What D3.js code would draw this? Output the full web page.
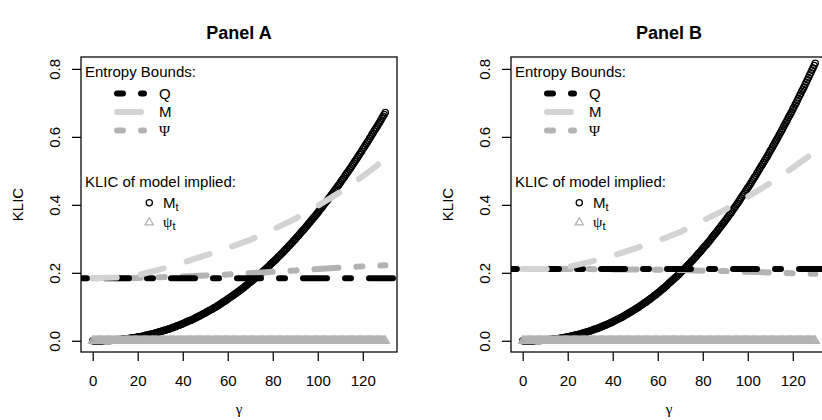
<!DOCTYPE html>
<html>
<head>
<meta charset="utf-8">
<script src="https://cdn.jsdelivr.net/npm/d3@7"></script>
<style>
  body { margin: 0; background: #fff; }
  text { font-family: "Liberation Sans", Arial, Helvetica, sans-serif; fill: #000; }
  .greek { font-family: "Liberation Serif", "DejaVu Serif", serif; }
</style>
</head>
<body>
<div id="chart"></div>
<script>
const width = 822,
      height = 420;

// gamma grid of the point series (step 0.5)
const gammaPts = [
  0,0.5,1,1.5,2,2.5,3,3.5,4,4.5,5,5.5,6,6.5,7,7.5,8,8.5,9,9.5,
  10,10.5,11,11.5,12,12.5,13,13.5,14,14.5,15,15.5,16,16.5,17,17.5,18,18.5,19,19.5,
  20,20.5,21,21.5,22,22.5,23,23.5,24,24.5,25,25.5,26,26.5,27,27.5,28,28.5,29,29.5,
  30,30.5,31,31.5,32,32.5,33,33.5,34,34.5,35,35.5,36,36.5,37,37.5,38,38.5,39,39.5,
  40,40.5,41,41.5,42,42.5,43,43.5,44,44.5,45,45.5,46,46.5,47,47.5,48,48.5,49,49.5,
  50,50.5,51,51.5,52,52.5,53,53.5,54,54.5,55,55.5,56,56.5,57,57.5,58,58.5,59,59.5,
  60,60.5,61,61.5,62,62.5,63,63.5,64,64.5,65,65.5,66,66.5,67,67.5,68,68.5,69,69.5,
  70,70.5,71,71.5,72,72.5,73,73.5,74,74.5,75,75.5,76,76.5,77,77.5,78,78.5,79,79.5,
  80,80.5,81,81.5,82,82.5,83,83.5,84,84.5,85,85.5,86,86.5,87,87.5,88,88.5,89,89.5,
  90,90.5,91,91.5,92,92.5,93,93.5,94,94.5,95,95.5,96,96.5,97,97.5,98,98.5,99,99.5,
  100,100.5,101,101.5,102,102.5,103,103.5,104,104.5,105,105.5,106,106.5,107,107.5,108,108.5,109,109.5,
  110,110.5,111,111.5,112,112.5,113,113.5,114,114.5,115,115.5,116,116.5,117,117.5,118,118.5,119,119.5,
  120,120.5,121,121.5,122,122.5,123,123.5,124,124.5,125,125.5,126,126.5,127,127.5,128,128.5,129,129.5,
  130];

// KLIC of model implied M_t (circles)
const mtA = [
  0.000,0.000,0.000,0.000,0.000,0.000,0.000,0.000,0.000,0.000,0.001,0.001,0.001,0.001,0.001,0.001,0.001,0.002,0.002,0.002,
  0.002,0.003,0.003,0.003,0.004,0.004,0.004,0.005,0.005,0.005,0.006,0.006,0.007,0.007,0.008,0.008,0.009,0.009,0.010,0.010,
  0.011,0.012,0.012,0.013,0.013,0.014,0.015,0.016,0.016,0.017,0.018,0.019,0.019,0.020,0.021,0.022,0.023,0.024,0.025,0.026,
  0.027,0.028,0.029,0.030,0.031,0.032,0.033,0.034,0.035,0.036,0.037,0.039,0.040,0.041,0.042,0.044,0.045,0.046,0.048,0.049,
  0.050,0.052,0.053,0.055,0.056,0.058,0.059,0.060,0.062,0.063,0.065,0.067,0.068,0.070,0.072,0.073,0.075,0.077,0.079,0.080,
  0.082,0.084,0.086,0.088,0.090,0.091,0.093,0.095,0.097,0.099,0.101,0.103,0.105,0.107,0.110,0.112,0.114,0.116,0.118,0.120,
  0.123,0.125,0.127,0.130,0.132,0.134,0.137,0.139,0.141,0.144,0.146,0.149,0.151,0.154,0.156,0.159,0.162,0.164,0.167,0.170,
  0.172,0.175,0.178,0.181,0.183,0.186,0.189,0.192,0.195,0.197,0.200,0.203,0.206,0.209,0.212,0.215,0.218,0.221,0.225,0.228,
  0.231,0.234,0.237,0.240,0.244,0.247,0.250,0.253,0.257,0.260,0.264,0.267,0.271,0.274,0.278,0.281,0.285,0.288,0.292,0.296,
  0.299,0.303,0.307,0.310,0.314,0.318,0.322,0.325,0.329,0.333,0.337,0.341,0.345,0.349,0.353,0.357,0.361,0.365,0.369,0.373,
  0.377,0.381,0.386,0.390,0.394,0.398,0.403,0.407,0.411,0.415,0.420,0.424,0.429,0.433,0.438,0.442,0.447,0.451,0.456,0.460,
  0.465,0.470,0.475,0.479,0.484,0.489,0.494,0.498,0.503,0.508,0.513,0.518,0.523,0.528,0.533,0.538,0.543,0.548,0.553,0.558,
  0.564,0.569,0.574,0.579,0.584,0.589,0.595,0.600,0.606,0.611,0.617,0.622,0.627,0.632,0.638,0.643,0.649,0.655,0.661,0.666,
  0.672];
const mtB = [
  0.000,0.000,0.000,0.000,0.000,0.000,0.000,0.000,0.000,0.000,0.000,0.001,0.001,0.001,0.001,0.001,0.001,0.002,0.002,0.002,
  0.002,0.003,0.003,0.003,0.004,0.004,0.004,0.005,0.005,0.006,0.006,0.006,0.007,0.007,0.008,0.008,0.009,0.010,0.010,0.011,
  0.012,0.012,0.013,0.014,0.014,0.015,0.016,0.017,0.018,0.018,0.019,0.020,0.021,0.022,0.023,0.024,0.025,0.026,0.027,0.028,
  0.029,0.030,0.031,0.033,0.034,0.035,0.036,0.037,0.039,0.040,0.041,0.043,0.044,0.045,0.047,0.048,0.050,0.051,0.053,0.054,
  0.056,0.058,0.059,0.061,0.063,0.064,0.066,0.068,0.069,0.071,0.073,0.075,0.077,0.079,0.081,0.083,0.085,0.087,0.089,0.091,
  0.093,0.095,0.097,0.099,0.102,0.104,0.106,0.108,0.111,0.113,0.115,0.118,0.120,0.122,0.125,0.127,0.130,0.133,0.135,0.138,
  0.141,0.143,0.146,0.149,0.152,0.154,0.157,0.160,0.163,0.166,0.169,0.172,0.175,0.178,0.181,0.184,0.187,0.190,0.193,0.196,
  0.200,0.203,0.206,0.210,0.213,0.216,0.220,0.223,0.227,0.230,0.234,0.237,0.241,0.244,0.248,0.252,0.256,0.259,0.263,0.267,
  0.271,0.275,0.279,0.282,0.286,0.290,0.294,0.298,0.303,0.307,0.311,0.315,0.319,0.323,0.328,0.332,0.336,0.341,0.345,0.349,
  0.354,0.358,0.363,0.367,0.372,0.376,0.381,0.386,0.391,0.395,0.400,0.405,0.410,0.415,0.420,0.425,0.430,0.435,0.440,0.445,
  0.450,0.455,0.460,0.465,0.471,0.476,0.481,0.486,0.492,0.497,0.503,0.508,0.514,0.519,0.525,0.530,0.536,0.541,0.547,0.553,
  0.559,0.564,0.570,0.576,0.582,0.588,0.594,0.600,0.606,0.612,0.618,0.624,0.631,0.637,0.643,0.649,0.656,0.662,0.668,0.674,
  0.681,0.687,0.694,0.700,0.707,0.714,0.721,0.727,0.734,0.740,0.747,0.754,0.761,0.768,0.775,0.782,0.789,0.796,0.803,0.810,
  0.817];

// KLIC of model implied psi_t (triangles), flat at zero
const psitA = [
  0,0,0,0,0,0,0,0,0,0,0,0,0,0,0,0,0,0,0,0, 0,0,0,0,0,0,0,0,0,0,0,0,0,0,0,0,0,0,0,0,
  0,0,0,0,0,0,0,0,0,0,0,0,0,0,0,0,0,0,0,0, 0,0,0,0,0,0,0,0,0,0,0,0,0,0,0,0,0,0,0,0,
  0,0,0,0,0,0,0,0,0,0,0,0,0,0,0,0,0,0,0,0, 0,0,0,0,0,0,0,0,0,0,0,0,0,0,0,0,0,0,0,0,
  0,0,0,0,0,0,0,0,0,0,0,0,0,0,0,0,0,0,0,0, 0,0,0,0,0,0,0,0,0,0,0,0,0,0,0,0,0,0,0,0,
  0,0,0,0,0,0,0,0,0,0,0,0,0,0,0,0,0,0,0,0, 0,0,0,0,0,0,0,0,0,0,0,0,0,0,0,0,0,0,0,0,
  0,0,0,0,0,0,0,0,0,0,0,0,0,0,0,0,0,0,0,0, 0,0,0,0,0,0,0,0,0,0,0,0,0,0,0,0,0,0,0,0,
  0,0,0,0,0,0,0,0,0,0,0,0,0,0,0,0,0,0,0,0, 0];
const psitB = [
  0,0,0,0,0,0,0,0,0,0,0,0,0,0,0,0,0,0,0,0, 0,0,0,0,0,0,0,0,0,0,0,0,0,0,0,0,0,0,0,0,
  0,0,0,0,0,0,0,0,0,0,0,0,0,0,0,0,0,0,0,0, 0,0,0,0,0,0,0,0,0,0,0,0,0,0,0,0,0,0,0,0,
  0,0,0,0,0,0,0,0,0,0,0,0,0,0,0,0,0,0,0,0, 0,0,0,0,0,0,0,0,0,0,0,0,0,0,0,0,0,0,0,0,
  0,0,0,0,0,0,0,0,0,0,0,0,0,0,0,0,0,0,0,0, 0,0,0,0,0,0,0,0,0,0,0,0,0,0,0,0,0,0,0,0,
  0,0,0,0,0,0,0,0,0,0,0,0,0,0,0,0,0,0,0,0, 0,0,0,0,0,0,0,0,0,0,0,0,0,0,0,0,0,0,0,0,
  0,0,0,0,0,0,0,0,0,0,0,0,0,0,0,0,0,0,0,0, 0,0,0,0,0,0,0,0,0,0,0,0,0,0,0,0,0,0,0,0,
  0,0,0,0,0,0,0,0,0,0,0,0,0,0,0,0,0,0,0,0, 0];

// entropy bounds, read every 10 units of gamma
const gammaLine = [0,10,20,30,40,50,60,70,80,90,100,110,120,130];
const mBoundA   = [0.184,0.186,0.193,0.210,0.230,0.251,0.273,0.297,0.327,0.359,0.397,0.438,0.484,0.535];
const psiBoundA = [0.184,0.184,0.185,0.187,0.189,0.192,0.195,0.199,0.203,0.207,0.211,0.215,0.219,0.222];
const mBoundB   = [0.211,0.211,0.217,0.232,0.250,0.272,0.294,0.320,0.353,0.386,0.424,0.464,0.509,0.557];
const psiBoundB = [0.211,0.211,0.211,0.211,0.210,0.210,0.209,0.208,0.206,0.205,0.203,0.201,0.199,0.197];
const qBoundA = 0.184,
      qBoundB = 0.211;

const panelTitles = ["Panel A", "Panel B"];
const xTicks = [0, 20, 40, 60, 80, 100, 120];
const yTicks = [0, 0.2, 0.4, 0.6, 0.8];

const panels = [
  { title: panelTitles[0], left: 81, mt: mtA, psit: psitA, mBound: mBoundA, psiBound: psiBoundA, q: qBoundA },
  { title: panelTitles[1], left: 511, mt: mtB, psit: psitB, mBound: mBoundB, psiBound: psiBoundB, q: qBoundB }
];

const plotTop = 57, plotW = 316, plotH = 295;
const lwd = 6;
const col = { q: "#000", m: "#d3d3d3", psi: "#b3b3b3", tri: "#b3b3b3" };
const dotdash = "6,18,24,18", dashed = "24,24";
const triPath = "M0,-4.8L4.2,2.4L-4.2,2.4Z";

var svg = d3.select("#chart").append("svg")
  .attr("width", width)
  .attr("height", height);

var x = d3.scaleLinear().domain([-5.2, 135.2]).range([0, plotW]);
var y = d3.scaleLinear().domain([-0.033, 0.835]).range([plotH, 0]);

var line = d3.line()
  .x(d => x(d[0]))
  .y(d => y(d[1]));

panels.forEach(function(p, i) {
  var pg = svg.append("g").attr("transform", `translate(${p.left},0)`);
  var plot = pg.append("g").attr("transform", `translate(0,${plotTop})`);

  plot.append("clipPath").attr("id", "clip" + i)
    .append("rect").attr("width", plotW).attr("height", plotH);
  var inner = plot.append("g").attr("clip-path", `url(#clip${i})`);

  // M_t circles
  inner.append("g").selectAll("circle").data(gammaPts)
    .enter().append("circle")
    .attr("cx", d => x(d))
    .attr("cy", (d, j) => y(p.mt[j]))
    .attr("r", 3.1)
    .style("fill", "none")
    .style("stroke", "#000")
    .style("stroke-width", 1.25);

  // psi_t triangles
  inner.append("g").selectAll("path").data(gammaPts)
    .enter().append("path")
    .attr("d", triPath)
    .attr("transform", (d, j) => `translate(${x(d)},${y(p.psit[j])})`)
    .style("fill", "none")
    .style("stroke", col.tri)
    .style("stroke-width", 1.25);

  // Psi bound
  inner.append("path")
    .attr("d", line(gammaLine.map((g, j) => [g, p.psiBound[j]])))
    .style("fill", "none").style("stroke", col.psi)
    .style("stroke-width", lwd).style("stroke-linecap", "round")
    .style("stroke-dasharray", dotdash);

  // Q bound: horizontal line across the whole plot
  inner.append("path")
    .attr("d", line([[x.domain()[0], p.q], [x.domain()[1], p.q]]))
    .style("fill", "none").style("stroke", col.q)
    .style("stroke-width", lwd).style("stroke-linecap", "round")
    .style("stroke-dasharray", dotdash);

  // M bound
  inner.append("path")
    .attr("d", line(gammaLine.map((g, j) => [g, p.mBound[j]])))
    .style("fill", "none").style("stroke", col.m)
    .style("stroke-width", lwd).style("stroke-linecap", "round")
    .style("stroke-dasharray", dashed);

  // axes
  var xAxis = plot.append("g").attr("transform", `translate(0,${plotH})`)
    .call(d3.axisBottom(x).tickValues(xTicks).tickSize(9).tickPadding(14).tickSizeOuter(0));
  var yAxis = plot.append("g")
    .call(d3.axisLeft(y).tickValues(yTicks).tickSize(9).tickFormat(d3.format(".1f")).tickSizeOuter(0));
  [xAxis, yAxis].forEach(function(a) {
    a.attr("font-family", null).attr("font-size", null);
    a.select(".domain").remove();
    a.selectAll(".tick line").style("stroke", "#000").style("stroke-width", 1.25);
    a.selectAll(".tick text").style("font-size", "15px");
  });
  yAxis.selectAll(".tick text")
    .attr("x", null).attr("dy", "0.35em")
    .attr("transform", "translate(-26,0) rotate(-90)")
    .style("text-anchor", "middle");

  plot.append("rect")
    .attr("width", plotW).attr("height", plotH)
    .style("fill", "none").style("stroke", "#000").style("stroke-width", 1.25);

  // titles and axis labels
  pg.append("text").attr("x", plotW / 2).attr("y", 39)
    .attr("text-anchor", "middle")
    .style("font-size", "18px").style("font-weight", "bold")
    .text(p.title);
  pg.append("text").attr("class", "greek")
    .attr("x", plotW / 2).attr("y", 414)
    .attr("text-anchor", "middle").style("font-size", "15px")
    .text("γ");
  pg.append("text")
    .attr("transform", `translate(-63,${plotTop + plotH / 2}) rotate(-90)`)
    .attr("dy", "0.35em").attr("text-anchor", "middle")
    .style("font-size", "15px")
    .text("KLIC");

  // legend: entropy bounds
  var lg = pg.append("g").style("font-size", "15px");
  lg.append("text").attr("x", 4).attr("y", 77).text("Entropy Bounds:");
  var rows = [
    { y: 93.5, color: col.q, dash: dotdash, label: "Q", greek: false },
    { y: 112, color: col.m, dash: dashed, label: "M", greek: false },
    { y: 130.5, color: col.psi, dash: dotdash, label: "Ψ", greek: true }
  ];
  rows.forEach(function(r) {
    lg.append("line")
      .attr("x1", 36).attr("x2", 63).attr("y1", r.y).attr("y2", r.y)
      .style("stroke", r.color).style("stroke-width", lwd)
      .style("stroke-linecap", "round").style("stroke-dasharray", r.dash);
    lg.append("text").attr("x", 78).attr("y", r.y).attr("dy", "0.35em")
      .attr("class", r.greek ? "greek" : null)
      .text(r.label);
  });

  // legend: model implied
  lg.append("text").attr("x", 4).attr("y", 187).text("KLIC of model implied:");
  lg.append("circle").attr("cx", 68.3).attr("cy", 202.7).attr("r", 3.1)
    .style("fill", "none").style("stroke", "#000").style("stroke-width", 1.25);
  var t1 = lg.append("text").attr("x", 82).attr("y", 202.7).attr("dy", "0.35em");
  t1.append("tspan").text("M");
  t1.append("tspan").attr("dy", "3").style("font-size", "11px").text("t");
  lg.append("path").attr("d", triPath)
    .attr("transform", "translate(68.3,222.5)")
    .style("fill", "none").style("stroke", col.tri).style("stroke-width", 1.25);
  var t2 = lg.append("text").attr("x", 82).attr("y", 221.7).attr("dy", "0.35em");
  t2.append("tspan").attr("class", "greek").text("ψ");
  t2.append("tspan").attr("dy", "3").style("font-size", "11px").text("t");
});
</script>
</body>
</html>
